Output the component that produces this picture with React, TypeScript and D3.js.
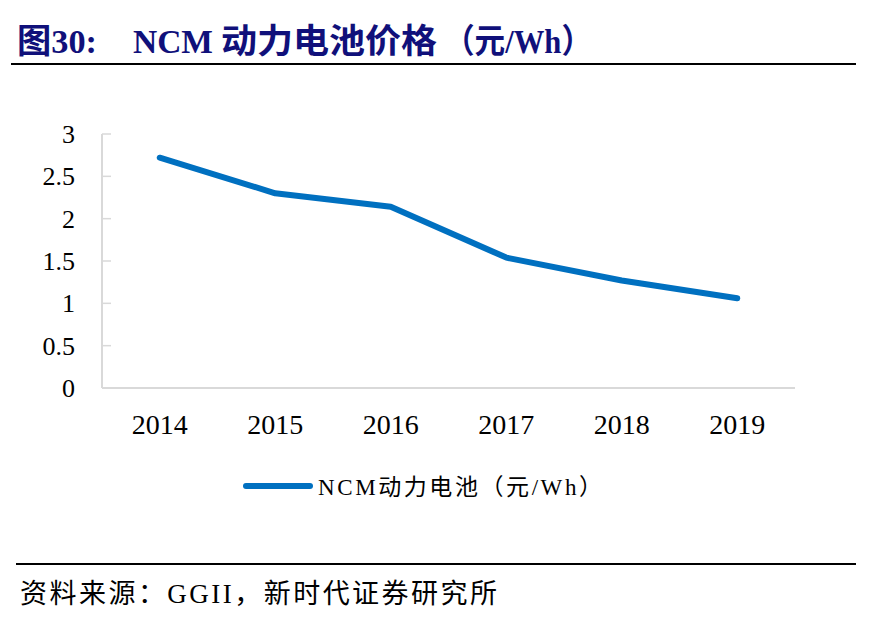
import { scaleBand, scaleLinear, line } from "d3";

const years = ["2014", "2015", "2016", "2017", "2018", "2019"];
const prices = [2.72, 2.3, 2.14, 1.54, 1.27, 1.06];
const yTicks = [0, 0.5, 1, 1.5, 2, 2.5, 3];
const yTickLabels = ["0", "0.5", "1", "1.5", "2", "2.5", "3"];
const seriesName = "NCM动力电池（元/Wh）";

const SERIF = "'Liberation Serif', 'Times New Roman', 'Noto Sans CJK SC', serif";
const TITLE_COLOR = "#10107a";

const App = () => {
  const width = 871;
  const height = 625;

  // plot area
  const left = 102;
  const right = 795;
  const top = 134;
  const bottom = 388;

  const xScale = scaleBand<string>().domain(years).range([left, right]);
  const yScale = scaleLinear().domain([0, 3]).range([bottom, top]);
  const cx = (d: string) => (xScale(d) ?? 0) + xScale.bandwidth() / 2;

  const path = line<number>()
    .x((_, i) => cx(years[i]))
    .y((d) => yScale(d))(prices);

  // title pieces, slightly stretched vertically like the report heading
  const titleParts = [
    { x: 17, text: "图30:", len: 80 },
    { x: 133, text: "NCM", len: 80 },
    { x: 221, text: "动力电池价格", len: 216 },
    { x: 444, text: "（元/Wh）", len: 148 },
  ];

  return (
    <svg
      width={width}
      height={height}
      style={{ position: "absolute", left: 0, top: 0, background: "#fff" }}
    >
      {/* title */}
      {titleParts.map((p) => (
        <g key={p.text} transform={`translate(${p.x},53) scale(1,1.12)`}>
          <text
            fontFamily={SERIF}
            fontWeight="bold"
            fontSize={30}
            fill={TITLE_COLOR}
            textLength={p.len}
            lengthAdjust="spacingAndGlyphs"
          >
            {p.text}
          </text>
        </g>
      ))}
      <line x1={11} x2={856} y1={64} y2={64} stroke="#000" strokeWidth={2} />

      {/* y axis */}
      <line x1={left} x2={left} y1={top} y2={bottom} stroke="#d9d9d9" strokeWidth={2} />
      {yTicks.map((t, i) => (
        <g key={t}>
          <line x1={left} x2={left + 9} y1={yScale(t)} y2={yScale(t)} stroke="#d9d9d9" strokeWidth={1.5} />
          <text
            x={75}
            y={yScale(t) + 9}
            textAnchor="end"
            fontFamily={SERIF}
            fontSize={26}
            fill="#000"
          >
            {yTickLabels[i]}
          </text>
        </g>
      ))}

      {/* x axis */}
      <line x1={left} x2={right} y1={bottom} y2={bottom} stroke="#d9d9d9" strokeWidth={2} />
      {years.map((y) => (
        <text
          key={y}
          x={cx(y)}
          y={434}
          textAnchor="middle"
          fontFamily={SERIF}
          fontSize={28}
          fill="#000"
        >
          {y}
        </text>
      ))}

      {/* series */}
      <path
        d={path ?? ""}
        fill="none"
        stroke="#0070c0"
        strokeWidth={6}
        strokeLinecap="round"
        strokeLinejoin="round"
      />

      {/* legend */}
      <line x1={246} x2={310} y1={486} y2={486} stroke="#0070c0" strokeWidth={6} strokeLinecap="round" />
      <text
        x={318}
        y={495}
        fontFamily={SERIF}
        fontSize={23}
        fill="#000"
        textLength={284}
        lengthAdjust="spacing"
      >
        {seriesName}
      </text>

      {/* footer */}
      <line x1={16} x2={856} y1={564} y2={564} stroke="#000" strokeWidth={2} />
      <text
        x={20}
        y={603}
        fontFamily={SERIF}
        fontSize={27}
        fill="#000"
        textLength={477}
        lengthAdjust="spacing"
      >
        资料来源：GGII，新时代证券研究所
      </text>
    </svg>
  );
};

export default App;
